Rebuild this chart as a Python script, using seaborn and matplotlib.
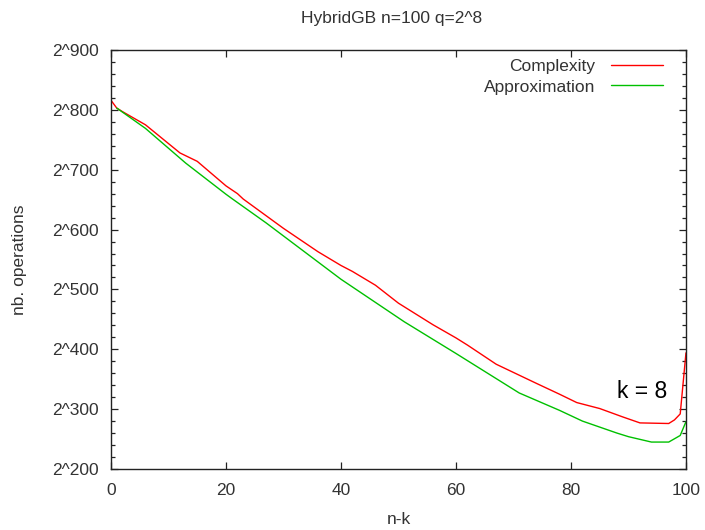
import matplotlib
matplotlib.use("Agg")
import matplotlib.pyplot as plt
import seaborn as sns
import pandas as pd
from matplotlib.ticker import MultipleLocator, FuncFormatter

# --- data ---
title = "HybridGB n=100 q=2^8"
x_label = "n-k"
y_label = "nb. operations"

complexity_x = [0, 1, 2, 6, 12, 15, 20, 22, 23, 30, 36, 40, 42, 46, 50, 56, 60,
                62, 67, 74, 78, 81, 85, 89, 92, 97, 98, 99, 100]
complexity_y = [816, 803, 797, 775, 728, 714, 673, 660, 651, 602, 563, 540, 530,
                507, 477, 441, 419, 407, 375, 343, 325, 311, 301, 287, 277, 276,
                282, 292, 394]

approx_x = [1, 6, 13, 20, 21, 27, 40, 51, 60, 71, 78, 82, 88, 90, 94, 97, 99, 100]
approx_y = [803, 769, 711, 659, 652, 611, 517, 446, 393, 327, 298, 280, 260, 254,
            245, 245, 256, 279]

x_ticks = [0, 20, 40, 60, 80, 100]
y_ticks = [200, 300, 400, 500, 600, 700, 800, 900]
annotation = "k = 8"

sns.set_theme(style="ticks")
plt.rcParams["font.family"] = ["Liberation Sans", "DejaVu Sans"]

fig = plt.figure(figsize=(7.05, 5.30), dpi=100)
ax = fig.add_axes([0.1574, 0.1151, 0.9730 - 0.1574, 0.9057 - 0.1151])

df_c = pd.DataFrame({"x": complexity_x, "y": complexity_y})
df_a = pd.DataFrame({"x": approx_x, "y": approx_y})
sns.lineplot(data=df_c, x="x", y="y", ax=ax, color="#ff0000", lw=1.0,
             label="Complexity", sort=False)
sns.lineplot(data=df_a, x="x", y="y", ax=ax, color="#00c000", lw=1.0,
             label="Approximation", sort=False)

ax.set_xlim(0, 100)
ax.set_ylim(200, 900)
ax.set_xticks(x_ticks)
ax.set_yticks(y_ticks)
ax.yaxis.set_minor_locator(MultipleLocator(20))
ax.yaxis.set_major_formatter(FuncFormatter(lambda v, p: f"2^{int(v)}"))

text_col = "#333333"
ax.tick_params(which="both", direction="in", top=True, right=True,
               colors="#222222", labelcolor=text_col, labelsize=12.5, width=0.9)
ax.tick_params(which="major", length=5, pad=9)
ax.tick_params(which="minor", length=3)
ax.tick_params(axis="x", pad=10)
for s in ax.spines.values():
    s.set_color("#222222")
    s.set_linewidth(1.0)

ax.set_xlabel(x_label, fontsize=12.5, color=text_col, labelpad=10)
ax.set_ylabel(y_label, fontsize=12.5, color=text_col, labelpad=18)
fig.text(0.555, 0.966, title, ha="center", va="center", fontsize=12.5, color=text_col)

ax.text(92.3, 329, annotation, ha="center", va="center", fontsize=16.5, color="#000000")

leg = ax.legend(loc="upper right", bbox_to_anchor=(0.972, 0.995), frameon=False,
                markerfirst=False, handlelength=3.0, handletextpad=0.9,
                fontsize=12.5, labelspacing=0.3, borderaxespad=0)
for t in leg.get_texts():
    t.set_color(text_col)

fig.savefig("out.png", dpi=100)
